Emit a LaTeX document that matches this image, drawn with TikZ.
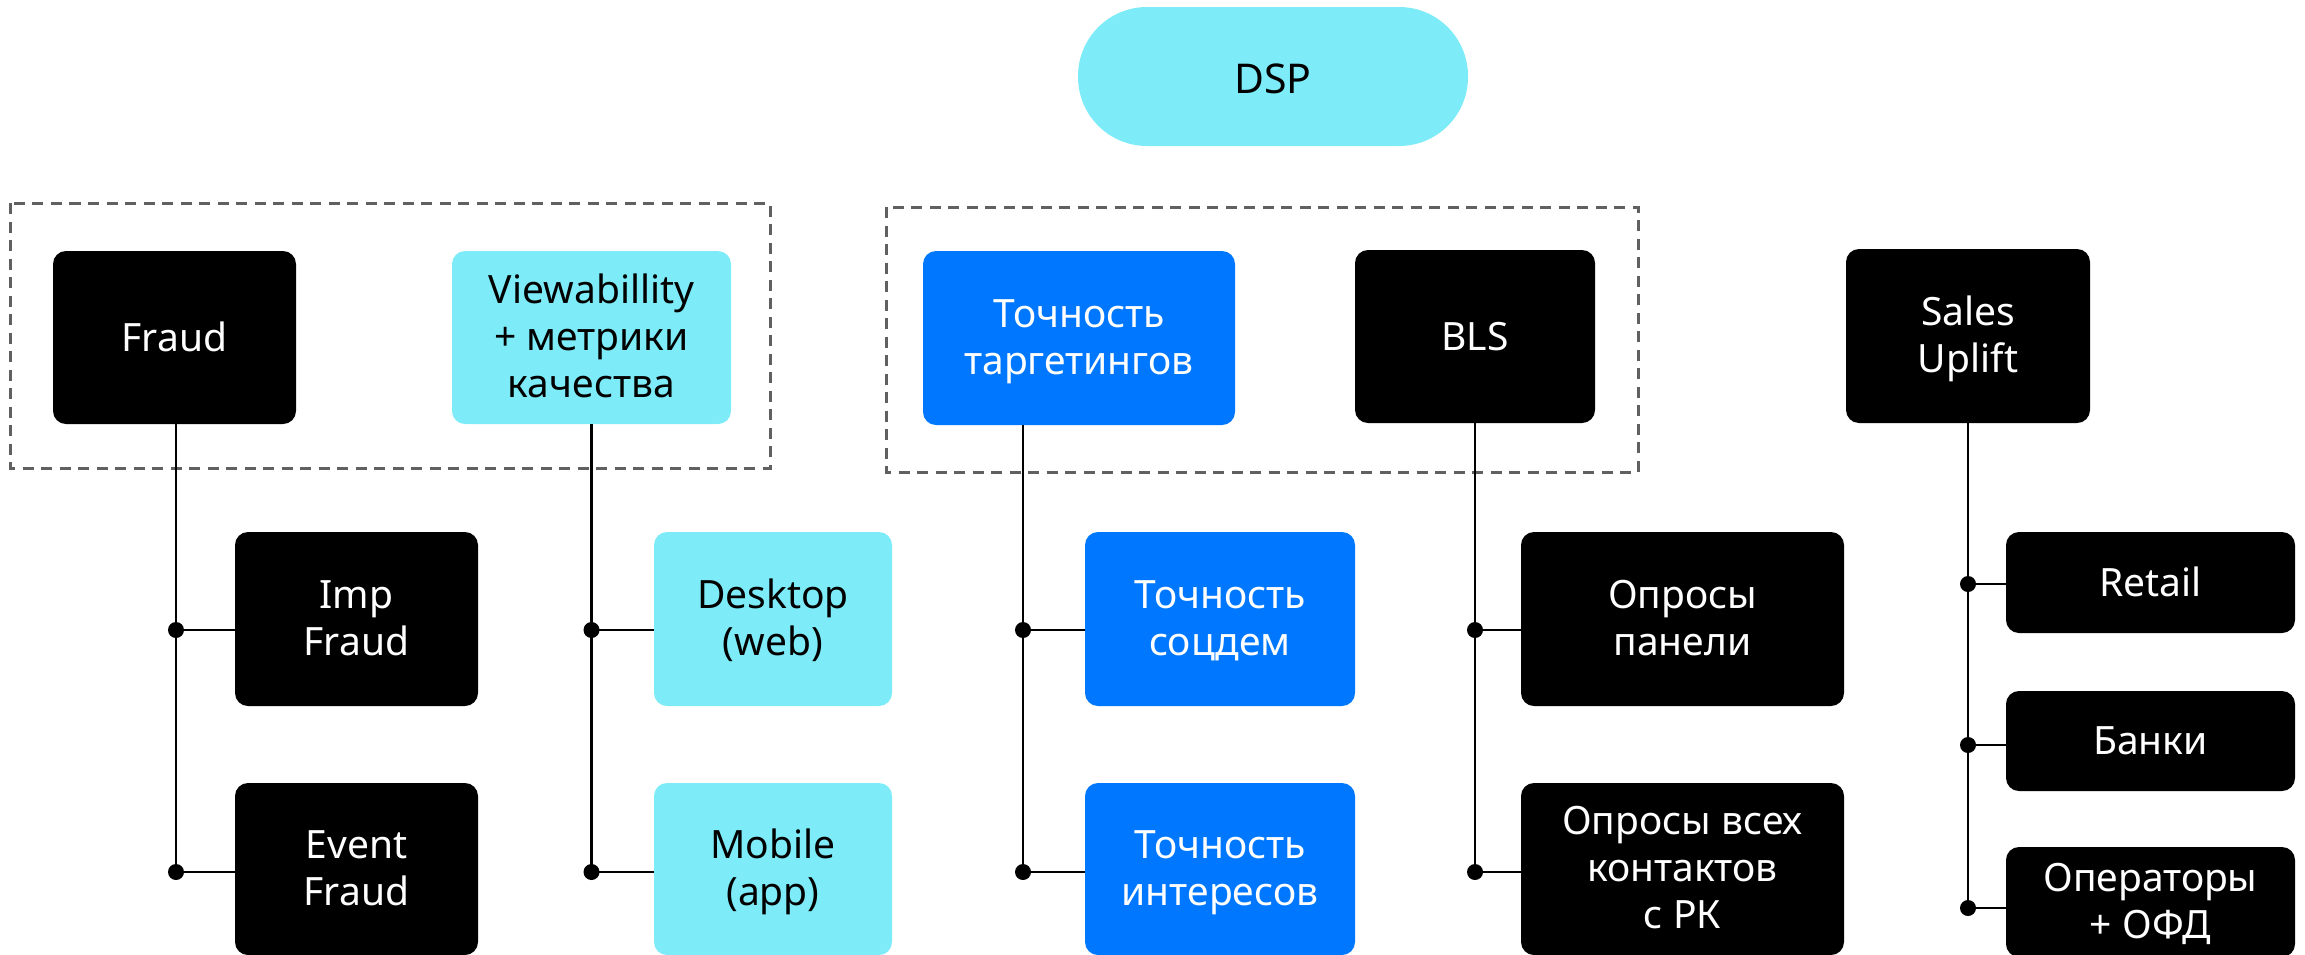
\documentclass[tikz,border=0pt]{standalone}
\usepackage{fontspec}
\setmainfont{Noto Sans}
\definecolor{cyanbox}{HTML}{7DECF8}
\definecolor{bluebox}{HTML}{0077FF}
\definecolor{dashgray}{HTML}{606060}
\begin{document}
\begin{tikzpicture}[x=1pt,y=-1pt,
  box/.style={rounded corners=13pt, inner sep=0pt, align=center,
    font=\fontsize{39}{47}\selectfont, text height=29pt, text depth=2pt},
  two/.style={text height=76pt, text depth=4pt},
  three/.style={text height=123pt, text depth=4pt},
  dark/.style={box, fill=black, text=white},
  light/.style={box, fill=cyanbox, text=black},
  blue/.style={box, fill=bluebox, text=white},
  group/.style={draw=dashgray, line width=3pt, dash pattern=on 11pt off 7.5pt},
  link/.style={line width=2.5pt},
  knot/.style={circle, fill=black, inner sep=0pt, minimum size=16pt}]
\useasboundingbox (0,0) rectangle (2305,954);

% root
\node[light, rounded corners=69pt, minimum width=390pt, minimum height=139pt,
  font=\fontsize{41}{47}\selectfont, text height=33pt, text depth=0pt] (dsp) at (1273,76.5) {DSP};

% dashed groups
\draw[group] (10,203) rectangle (770,468);
\draw[group] (886,207) rectangle (1638,472);

% top row
\node[dark, minimum width=243pt, minimum height=173pt] (fraud) at (174.5,337.5) {Fraud};
\node[light, three, minimum width=279pt, minimum height=173pt] (view) at (591.5,337.5) {Viewabillity\\+ метрики\\качества};
\node[blue, two, minimum width=312pt, minimum height=174pt] (targ) at (1079,338) {Точность\\таргетингов};
\node[dark, minimum width=240pt, minimum height=173pt] (bls) at (1475,336.5) {BLS};
\node[dark, two, minimum width=244pt, minimum height=174pt] (sales) at (1968,336) {Sales\\Uplift};

% second row
\node[dark, two, minimum width=243pt, minimum height=174pt] (imp) at (356.5,619) {Imp\\Fraud};
\node[light, two, minimum width=238pt, minimum height=174pt] (desk) at (773,619) {Desktop\\(web)};
\node[blue, two, minimum width=270pt, minimum height=174pt] (soc) at (1220,619) {Точность\\соцдем};
\node[dark, two, minimum width=323pt, minimum height=174pt] (panel) at (1682.5,619) {Опросы\\панели};

% third row
\node[dark, two, minimum width=243pt, minimum height=172pt] (event) at (356.5,869) {Event\\Fraud};
\node[light, two, minimum width=238pt, minimum height=172pt] (mob) at (773,869) {Mobile\\(app)};
\node[blue, two, minimum width=270pt, minimum height=172pt] (inter) at (1220,869) {Точность\\интересов};
\node[dark, three, minimum width=323pt, minimum height=172pt] (allc) at (1682.5,869) {Опросы всех\\контактов\\с РК};

% sales sources
\node[dark, minimum width=289pt, minimum height=101pt] (retail) at (2150.5,582.5) {Retail};
\node[dark, minimum width=289pt, minimum height=100pt] (bank) at (2150.5,741) {Банки};
\node[dark, two, minimum width=289pt, minimum height=110pt] (oper) at (2150.5,902) {Операторы\\+ ОФД};

% junction points on the trunks
\coordinate (f1) at (176,630);  \coordinate (f2) at (176,872);
\coordinate (v1) at (591.5,630); \coordinate (v2) at (591.5,872);
\coordinate (t1) at (1023,630); \coordinate (t2) at (1023,872);
\coordinate (b1) at (1475,630); \coordinate (b2) at (1475,872);
\coordinate (s1) at (1968,584); \coordinate (s2) at (1968,745); \coordinate (s3) at (1968,908);

% trunks
\draw[link] (fraud.south -| f1) -- (f2);
\draw[link] (view.south -| v1) -- (v2);
\draw[link] (targ.south -| t1) -- (t2);
\draw[link] (bls.south -| b1) -- (b2);
\draw[link] (sales.south -| s1) -- (s3);

% branches
\draw[link] (f1) -- (f1 -| imp.west);
\draw[link] (f2) -- (f2 -| event.west);
\draw[link] (v1) -- (v1 -| desk.west);
\draw[link] (v2) -- (v2 -| mob.west);
\draw[link] (t1) -- (t1 -| soc.west);
\draw[link] (t2) -- (t2 -| inter.west);
\draw[link] (b1) -- (b1 -| panel.west);
\draw[link] (b2) -- (b2 -| allc.west);
\draw[link] (s1) -- (s1 -| retail.west);
\draw[link] (s2) -- (s2 -| bank.west);
\draw[link] (s3) -- (s3 -| oper.west);

% junction dots
\foreach \p in {f1,f2,v1,v2,t1,t2,b1,b2,s1,s2,s3}
  \node[knot] at (\p) {};
\end{tikzpicture}
\end{document}
